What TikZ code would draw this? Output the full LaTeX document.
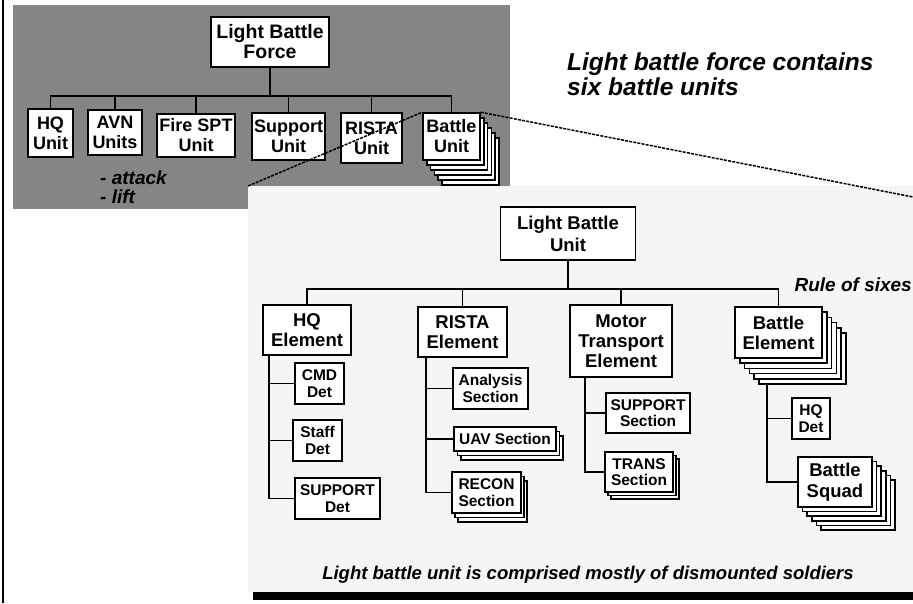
\documentclass[tikz,border=0pt]{standalone}
\usepackage{fontspec}
\setmainfont{Liberation Sans}
\usetikzlibrary{shadows}
\pgfdeclarelayer{panel}
\pgfsetlayers{panel,main}
\begin{document}
\begin{tikzpicture}[x=1pt,y=-1pt,
  box/.style={draw, line width=1.6pt, fill=white, align=center, inner sep=0pt,
    font=\bfseries\fontsize{18.5}{20}\selectfont},
  topbox/.style={box, font=\bfseries\fontsize{18}{20}\selectfont},
  sbox/.style={box, font=\bfseries\fontsize{15.5}{16.5}\selectfont},
  conn/.style={line width=1.5pt},
  zoomline/.style={line width=1.5pt, dash pattern=on 3pt off 1.2pt},
  note/.style={font=\bfseries\itshape\fontsize{18.5}{20}\selectfont, inner sep=0pt},
  sh/.style 2 args={copy shadow={shadow xshift=#1, shadow yshift=#2}},
  fivestack/.style 2 args={sh={5*#1}{-5*#2}, sh={4*#1}{-4*#2}, sh={3*#1}{-3*#2},
    sh={2*#1}{-2*#2}, sh={#1}{-#2}},
  twostack/.style 2 args={sh={2*#1}{-2*#2}, sh={#1}{-#2}},
]
\useasboundingbox (0,0) rectangle (913,603);
\begin{pgfonlayer}{panel}
  \fill[black!48] (13,5) rectangle (510,209);
  \fill[black!4] (248,186) rectangle (913,592);
  \fill[black] (253,592) rectangle (913,600);
  \draw[line width=1.6pt] (3,0) -- (3,603);
\end{pgfonlayer}
\coordinate (ptl) at (248,186);
\coordinate (ptr) at (913,197);

% ---- Light battle force
\node[topbox, font=\bfseries\fontsize{19.5}{20}\selectfont, minimum width=118, minimum height=50] (lbf) at (270,42) {Light Battle\\Force};
\node[topbox, minimum width=45, minimum height=48] (hqu) at (50.5,133) {HQ\\Unit};
\node[topbox, minimum width=54, minimum height=45] (avn) at (115,132.5) {AVN\\Units};
\node[topbox, minimum width=78, minimum height=43] (fire) at (196,135.5) {Fire SPT\\Unit};
\node[topbox, minimum width=73, minimum height=47] (supu) at (288.5,136.5) {Support\\Unit};
\node[topbox, minimum width=61, minimum height=50] (ristu) at (371.5,138) {RISTA\\Unit};
\node[topbox, minimum width=57, minimum height=47, fivestack={3.8pt}{5pt}] (bu) at (451.5,136.5) {Battle\\Unit};
\draw[conn] (lbf.south) -- ++(0,28) coordinate (bt);
\foreach \n in {hqu,avn,fire,supu,ristu,bu} \draw[conn] (\n.north) |- (bt);
\node[note, align=left, anchor=west, font=\bfseries\itshape\fontsize{19}{19.5}\selectfont] (avnnote) at (100,187) {- attack\\- lift};

\node[note, align=left, anchor=west, font=\bfseries\itshape\fontsize{24.5}{25}\selectfont] (t1) at (567,74) {Light battle force contains\\six battle units};

% ---- Light battle unit
\node[box, font=\bfseries\fontsize{18.5}{22}\selectfont, minimum width=135, minimum height=53] (lbu) at (568,233.5) {Light Battle\\Unit};
\node[box, minimum width=88, minimum height=50] (hqe) at (307,330) {HQ\\Element};
\node[box, minimum width=89, minimum height=50] (rie) at (462.5,332) {RISTA\\Element};
\node[box, minimum width=102, minimum height=72] (mte) at (621,341) {Motor\\Transport\\Element};
\node[box, minimum width=87, minimum height=51, fivestack={4.8pt}{5.2pt}] (bae) at (778.5,332.5) {Battle\\Element};
\draw[conn] (lbu.south) -- ++(0,28) coordinate (bb);
\foreach \n in {hqe,rie,mte,bae} \draw[conn] (\n.north) |- (bb);

\node[note, anchor=east, font=\bfseries\itshape\fontsize{19}{20}\selectfont] (rule) at (912,285) {Rule of sixes};

% HQ element
\node[sbox, minimum width=49, minimum height=41] (cmd) at (319.5,383.5) {CMD\\Det};
\node[sbox, minimum width=49, minimum height=41] (staff) at (317.5,440.5) {Staff\\Det};
\node[sbox, minimum width=85, minimum height=41] (supd) at (337.5,498.5) {SUPPORT\\Det};
\foreach \n in {cmd,staff,supd} \draw[conn] ([xshift=7pt]hqe.south west) |- (\n.west);

% RISTA element
\node[sbox, minimum width=75, minimum height=41] (ana) at (490.5,388.5) {Analysis\\Section};
\node[sbox, minimum width=102, minimum height=24, twostack={3.5pt}{4.5pt}] (uav) at (505,439) {UAV Section};
\node[sbox, minimum width=69, minimum height=41, twostack={3pt}{4.5pt}] (rec) at (486.5,492.5) {RECON\\Section};
\foreach \n in {ana,uav,rec} \draw[conn] ([xshift=9pt]rie.south west) |- (\n.west);

% Motor transport element
\node[sbox, minimum width=84, minimum height=40] (sups) at (648,413) {SUPPORT\\Section};
\node[sbox, minimum width=68, minimum height=40, twostack={3pt}{3.5pt}] (trans) at (639,472) {TRANS\\Section};
\foreach \n in {sups,trans} \draw[conn] ([xshift=16pt]mte.south west) |- (\n.west);

% Battle element
\node[sbox, minimum width=38, minimum height=41] (hqd) at (811,418.5) {HQ\\Det};
\node[box, font=\bfseries\fontsize{18.5}{21}\selectfont, minimum width=74, minimum height=50, fivestack={4.6pt}{4.6pt}] (bsq) at (835,482) {Battle\\Squad};
\foreach \n in {hqd,bsq} \draw[conn] ([xshift=-11.5pt,yshift=-26pt]bae.south) |- (\n.west);

\node[note] (t3) at (588,575) {Light battle unit is comprised mostly of dismounted soldiers};

% zoom lines
\draw[zoomline] (ptl) -- (bu.north west);
\draw[zoomline] (bu.north east) -- (ptr);
\end{tikzpicture}
\end{document}
